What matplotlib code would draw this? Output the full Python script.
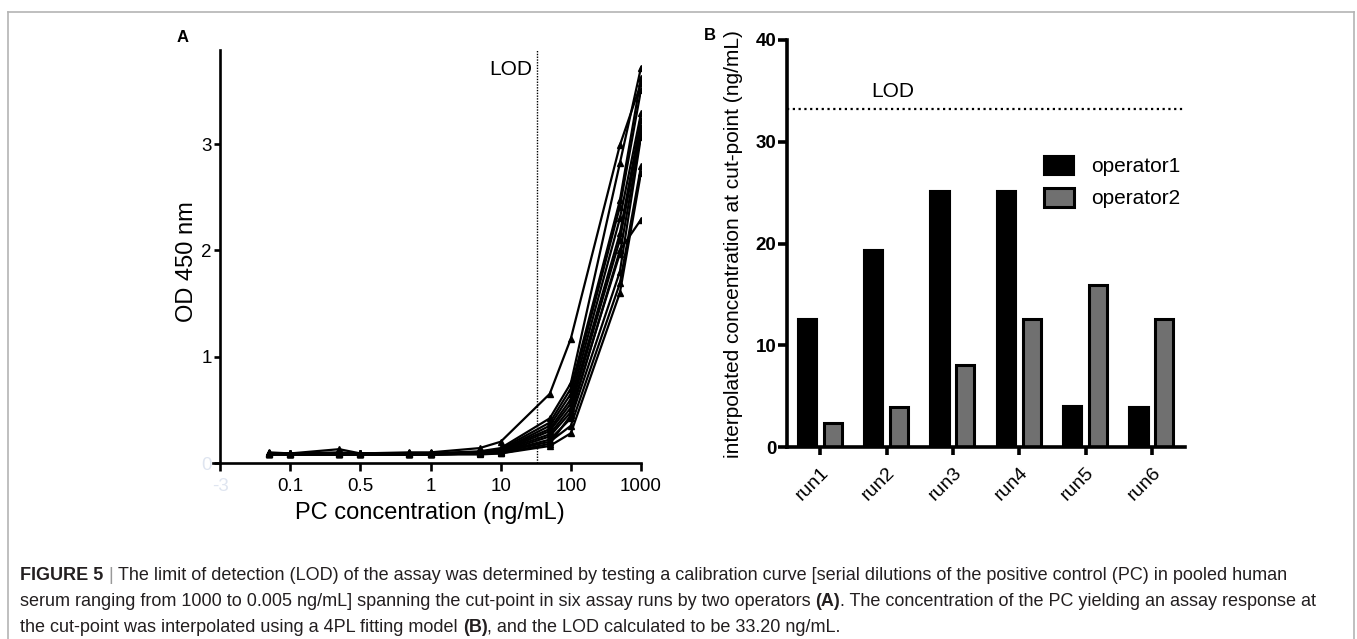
import numpy as np
import matplotlib
matplotlib.use("Agg")
import matplotlib.pyplot as plt
from matplotlib.lines import Line2D
from matplotlib.patches import Patch

plt.rcParams['font.family'] = ['Liberation Sans', 'DejaVu Sans']

W, H = 1357, 639

# --- panel A data: OD 450 nm of the 12 calibration curves (6 runs x 2 operators)
conc = [0.005, 0.01, 0.05, 0.1, 0.5, 1, 5, 10, 50, 100, 500, 1000]
od_curves = [
    [0.10, 0.09, 0.13, 0.09, 0.10, 0.10, 0.14, 0.20, 0.65, 1.17, 2.99, 3.57],
    [0.09, 0.08, 0.09, 0.09, 0.09, 0.09, 0.11, 0.14, 0.42, 0.75, 2.82, 3.72],
    [0.09, 0.09, 0.10, 0.09, 0.09, 0.09, 0.10, 0.13, 0.38, 0.70, 2.47, 3.62],
    [0.09, 0.09, 0.09, 0.08, 0.09, 0.09, 0.10, 0.12, 0.35, 0.65, 2.41, 3.51],
    [0.08, 0.09, 0.09, 0.09, 0.08, 0.09, 0.10, 0.12, 0.32, 0.60, 2.30, 3.29],
    [0.09, 0.08, 0.09, 0.09, 0.09, 0.08, 0.10, 0.11, 0.30, 0.56, 2.16, 3.23],
    [0.08, 0.08, 0.08, 0.08, 0.08, 0.08, 0.09, 0.11, 0.27, 0.52, 2.10, 3.16],
    [0.09, 0.09, 0.09, 0.09, 0.09, 0.09, 0.09, 0.10, 0.25, 0.48, 1.97, 3.10],
    [0.08, 0.08, 0.08, 0.08, 0.08, 0.08, 0.09, 0.10, 0.22, 0.42, 1.80, 3.07],
    [0.08, 0.08, 0.08, 0.08, 0.08, 0.08, 0.09, 0.10, 0.20, 0.35, 1.69, 2.79],
    [0.08, 0.08, 0.08, 0.08, 0.08, 0.08, 0.08, 0.09, 0.16, 0.28, 1.60, 2.73],
    [0.09, 0.08, 0.08, 0.08, 0.08, 0.08, 0.09, 0.09, 0.18, 0.45, 2.00, 2.29],
]
xtick_pos = [-3, -2, -1, 0, 1, 2, 3]
xtick_labels = ["-3", "0.1", "0.5", "1", "10", "100", "1000"]
lod = 33.20

# --- panel B data
runs = ["run1", "run2", "run3", "run4", "run5", "run6"]
operator1 = [12.6, 19.4, 25.2, 25.2, 4.0, 3.95]
operator2 = [2.4, 3.9, 8.1, 12.6, 15.9, 12.6]

fig = plt.figure(figsize=(W / 100, H / 100), dpi=100)


def fx(px):
    return px / W


def fy(py):
    return 1 - py / H


faint = "#dfe5f0"

# ---------------- Panel A
axA = fig.add_axes([fx(213), fy(463), fx(641 - 213), (463 - 50) / H])
for curve in od_curves:
    axA.plot(np.log10(conc), curve, color="black", lw=1.6, marker="^", ms=4.5,
             solid_joinstyle="round")
axA.set_xlim(-3.1, 3.0)
axA.set_ylim(0, 3.885)
axA.spines["left"].set_position(("data", -3))
axA.spines["top"].set_visible(False)
axA.spines["right"].set_visible(False)
for s in ("left", "bottom"):
    axA.spines[s].set_linewidth(1.9)
axA.set_xticks(xtick_pos)
axA.set_xticklabels(xtick_labels)
axA.set_yticks([0, 1, 2, 3])
axA.set_yticklabels(["0", "1", "2", "3"])
axA.tick_params(axis="both", direction="out", width=1.9, labelsize=13.5)
axA.tick_params(axis="x", length=6, pad=5)
axA.tick_params(axis="y", length=4, pad=2)
axA.get_xticklabels()[0].set_color(faint)
axA.get_yticklabels()[0].set_color(faint)
axA.axvline(np.log10(lod), color="black", lw=1.0, ls=(0, (1, 1)))
axA.text(np.log10(lod) - 0.07, 3.70, "LOD", fontsize=15, ha="right", va="center")

fig.text(fx(187), fy(262), "OD 450 nm", rotation=90, fontsize=17, ha="center", va="center")
fig.text(fx(430), fy(513), "PC concentration (ng/mL)", fontsize=17, ha="center", va="center")
fig.text(fx(183), fy(38), "A", fontsize=12, fontweight="bold", ha="center", va="center")

# ---------------- Panel B
axB = fig.add_axes([fx(787), fy(447), fx(1185 - 787), (447 - 40) / H])
x = np.arange(len(runs))
axB.bar(x - 0.195, operator1, width=0.29, color="black", edgecolor="black", lw=1.5,
        label="operator1")
axB.bar(x + 0.19, operator2, width=0.27, color="#707070", edgecolor="black", lw=2.2,
        label="operator2")
axB.set_xlim(-0.5, 5.5)
axB.set_ylim(0, 40)
axB.spines["top"].set_visible(False)
axB.spines["right"].set_visible(False)
for s in ("left", "bottom"):
    axB.spines[s].set_linewidth(2.6)
axB.set_yticks([0, 10, 20, 30, 40])
axB.set_xticks(x)
axB.set_xticklabels(runs, rotation=45, ha="right", va="top", rotation_mode="anchor",
                    fontsize=14)
axB.tick_params(axis="both", direction="out", width=2.6)
axB.tick_params(axis="y", length=6.5, pad=1, labelsize=13.5)
axB.tick_params(axis="x", length=6, pad=6)
for t in axB.get_yticklabels():
    t.set_fontweight("bold")
axB.axhline(lod, color="black", lw=1.6, ls=(0, (1, 1.6)))
axB.text(1.09, 34.9, "LOD", fontsize=15, ha="center", va="center")
handles = [Patch(facecolor="black", edgecolor="black", lw=1.5),
           Patch(facecolor="#707070", edgecolor="black", lw=2.2)]
fig.legend(handles, ["operator1", "operator2"], loc="upper left",
           bbox_to_anchor=(fx(1044), fy(156)), frameon=False, fontsize=15,
           borderpad=0, borderaxespad=0, handlelength=1.45, handleheight=1.0,
           handletextpad=0.8, labelspacing=0.55)

fig.text(fx(733), fy(244), "interpolated concentration at cut-point (ng/mL)",
         rotation=90, fontsize=15, ha="center", va="center")
fig.text(fx(710), fy(35), "B", fontsize=12, fontweight="bold", ha="center", va="center")

# ---------------- frame around the figure
frame_col = "#b4b4b4"
fig.add_artist(Line2D([fx(8), fx(8)], [fy(12), 0], color=frame_col, lw=1.2))
fig.add_artist(Line2D([fx(8), fx(1354)], [fy(12), fy(12)], color=frame_col, lw=1.2))
fig.add_artist(Line2D([fx(1354), fx(1354)], [fy(12), 0], color=frame_col, lw=1.2))

# ---------------- caption
caption_lines = [
    [("FIGURE 5", "bold", "#231f20"), ("|", "normal", "#999999"),
     ("The limit of detection (LOD) of the assay was determined by testing a calibration "
      "curve [serial dilutions of the positive control (PC) in pooled human", "normal", "#231f20")],
    [("serum ranging from 1000 to 0.005 ng/mL] spanning the cut-point in six assay runs by "
      "two operators", "normal", "#231f20"), ("(A)", "bold", "#231f20"),
     (". The concentration of the PC yielding an assay response at", "normal", "#231f20")],
    [("the cut-point was interpolated using a 4PL fitting model", "normal", "#231f20"),
     ("(B)", "bold", "#231f20"),
     (", and the LOD calculated to be 33.20 ng/mL.", "normal", "#231f20")],
]
caption_y = [576, 602, 628]
cap_size = 13.0
renderer = fig.canvas.get_renderer()
probe = fig.text(0, 0, "n n", fontsize=cap_size)
w1 = probe.get_window_extent(renderer).width
probe.set_text("nn")
space_w = w1 - probe.get_window_extent(renderer).width
probe.remove()

for line, ypx in zip(caption_lines, caption_y):
    xpx = 20
    for i, (s, weight, col) in enumerate(line):
        if i > 0 and not s.startswith((".", ",")):
            xpx += space_w
        t = fig.text(fx(xpx), fy(ypx), s, fontsize=cap_size, fontweight=weight,
                     color=col, ha="left", va="center")
        xpx += t.get_window_extent(renderer).width

fig.savefig("out.png", dpi=100)
